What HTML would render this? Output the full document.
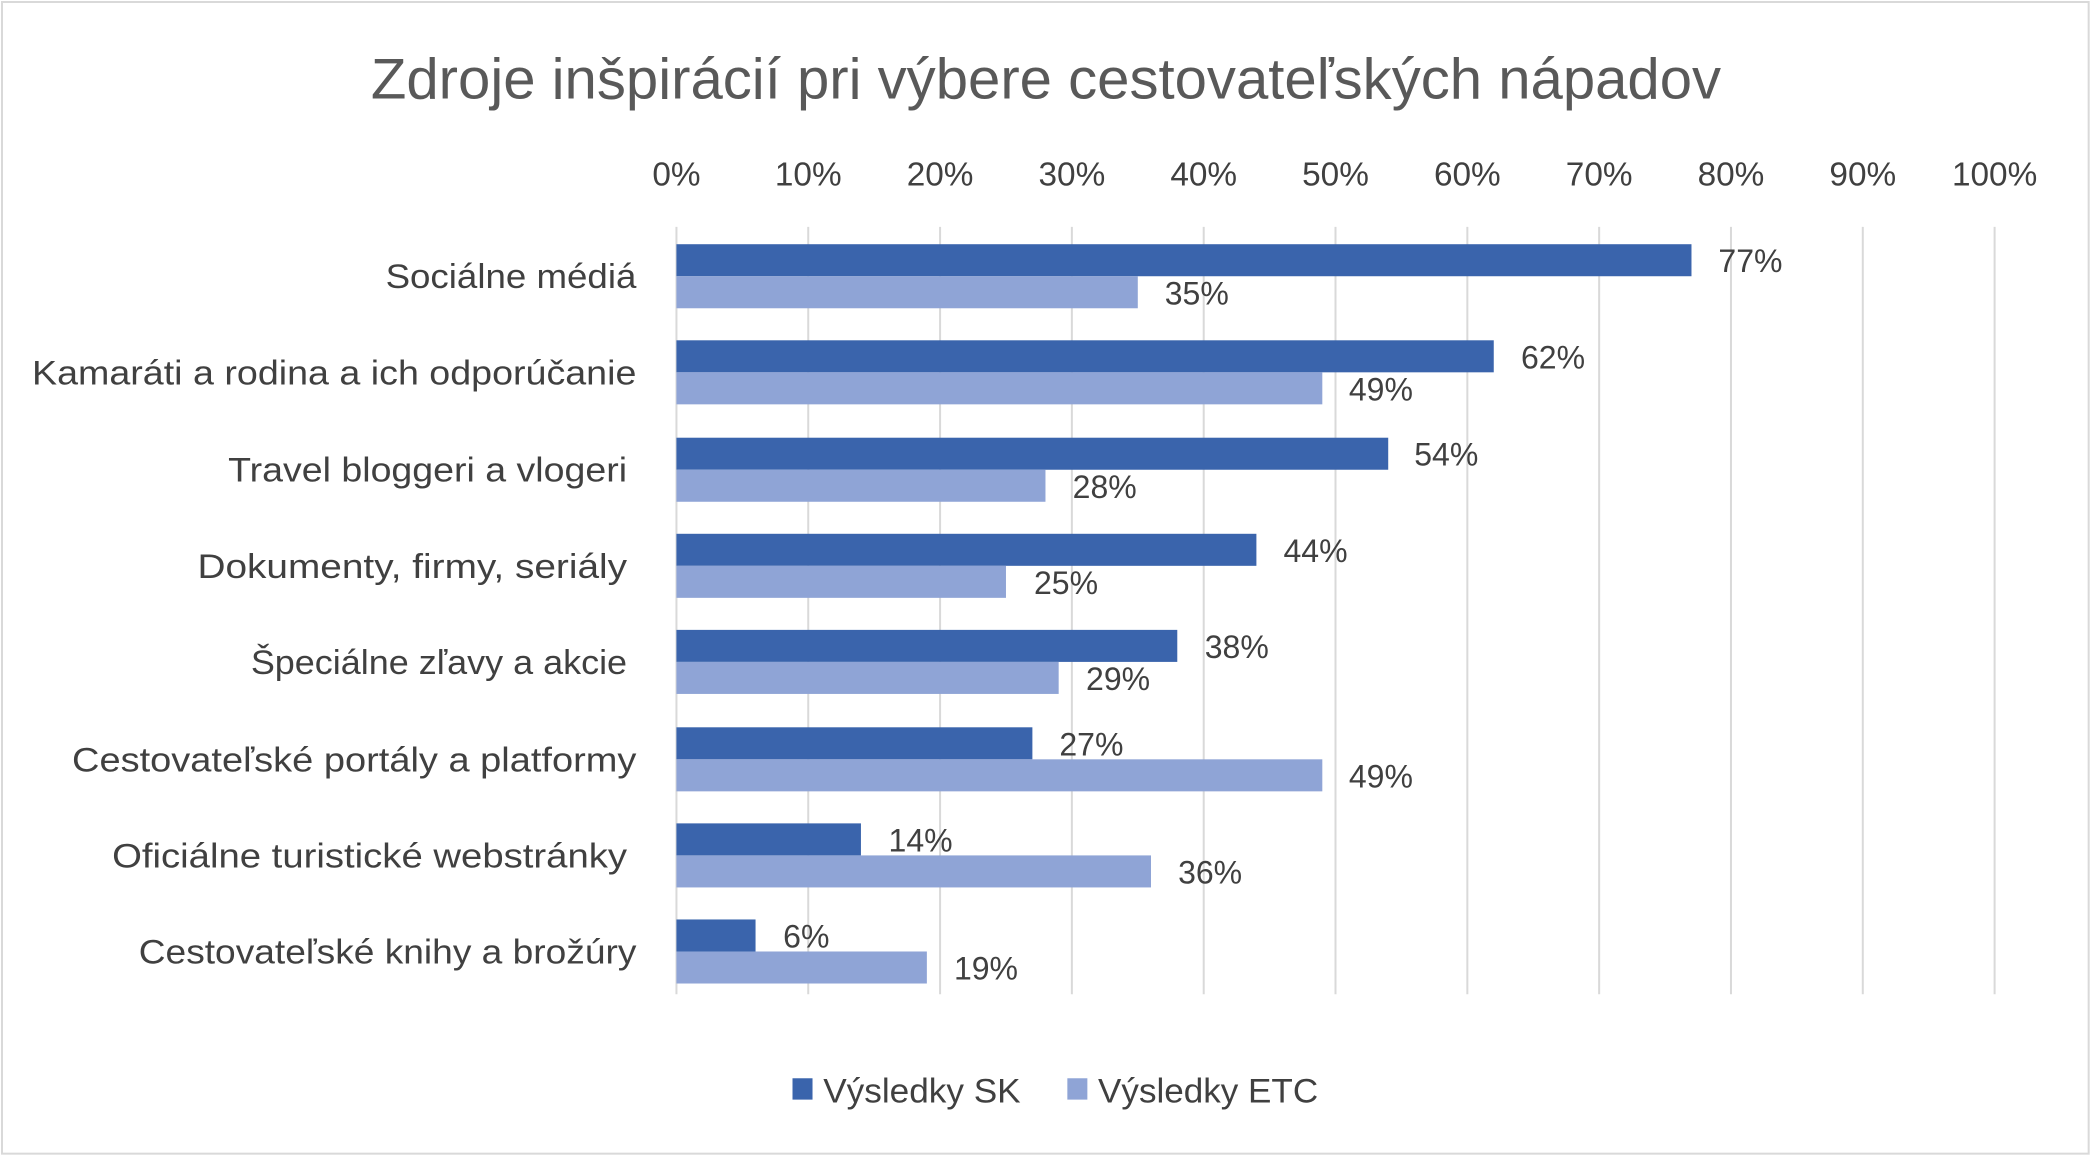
<!DOCTYPE html>
<html><head><meta charset="utf-8"><style>
html,body{margin:0;padding:0;background:#fff;}
svg{display:block;}
text{font-family:"Liberation Sans",sans-serif;fill:#404040;}
</style></head><body>
<svg width="2092" height="1157" viewBox="0 0 1568 867" preserveAspectRatio="none">
<rect x="1.5" y="1.5" width="1564" height="863" fill="#fff" stroke="#d9d9d9" stroke-width="1.5"/>
<text x="278" y="74" font-size="43" textLength="1012" lengthAdjust="spacingAndGlyphs" style="fill:#595959">Zdroje inšpirácií pri výbere cestovateľských nápadov</text>
<g stroke="#d9d9d9" stroke-width="1.5">
<line x1="507" y1="170" x2="507" y2="745"/><line x1="605.8" y1="170" x2="605.8" y2="745"/><line x1="704.6" y1="170" x2="704.6" y2="745"/><line x1="803.4" y1="170" x2="803.4" y2="745"/><line x1="902.2" y1="170" x2="902.2" y2="745"/><line x1="1001" y1="170" x2="1001" y2="745"/><line x1="1099.8" y1="170" x2="1099.8" y2="745"/><line x1="1198.6" y1="170" x2="1198.6" y2="745"/><line x1="1297.4" y1="170" x2="1297.4" y2="745"/><line x1="1396.2" y1="170" x2="1396.2" y2="745"/><line x1="1495" y1="170" x2="1495" y2="745"/>
</g>
<g font-size="25" text-anchor="middle">
<text x="507" y="139">0%</text><text x="605.8" y="139">10%</text><text x="704.6" y="139">20%</text><text x="803.4" y="139">30%</text><text x="902.2" y="139">40%</text><text x="1001" y="139">50%</text><text x="1099.8" y="139">60%</text><text x="1198.6" y="139">70%</text><text x="1297.4" y="139">80%</text><text x="1396.2" y="139">90%</text><text x="1495" y="139">100%</text>
</g>
<g font-size="26" text-anchor="end" lengthAdjust="spacingAndGlyphs">
<text x="477" y="216" textLength="188" lengthAdjust="spacingAndGlyphs">Sociálne médiá</text>
<text x="477" y="288" textLength="453" lengthAdjust="spacingAndGlyphs">Kamaráti a rodina a ich odporúčanie</text>
<text x="470" y="361" textLength="299" lengthAdjust="spacingAndGlyphs">Travel bloggeri a vlogeri</text>
<text x="470" y="433" textLength="322" lengthAdjust="spacingAndGlyphs">Dokumenty, firmy, seriály</text>
<text x="470" y="505" textLength="282" lengthAdjust="spacingAndGlyphs">Špeciálne zľavy a akcie</text>
<text x="477" y="578" textLength="423" lengthAdjust="spacingAndGlyphs">Cestovateľské portály a platformy</text>
<text x="470" y="650" textLength="386" lengthAdjust="spacingAndGlyphs">Oficiálne turistické webstránky</text>
<text x="477" y="722" textLength="373" lengthAdjust="spacingAndGlyphs">Cestovateľské knihy a brožúry</text>
</g>
<g fill="#3a64ac">
<rect x="507" y="183" width="760.8" height="24"/>
<rect x="507" y="255" width="612.6" height="24"/>
<rect x="507" y="328" width="533.5" height="24"/>
<rect x="507" y="400" width="434.7" height="24"/>
<rect x="507" y="472" width="375.4" height="24"/>
<rect x="507" y="545" width="266.8" height="24"/>
<rect x="507" y="617" width="138.3" height="24"/>
<rect x="507" y="689" width="59.3" height="24"/>
</g>
<g fill="#8fa4d6">
<rect x="507" y="207" width="345.8" height="24"/>
<rect x="507" y="279" width="484.1" height="24"/>
<rect x="507" y="352" width="276.6" height="24"/>
<rect x="507" y="424" width="247" height="24"/>
<rect x="507" y="496" width="286.5" height="24"/>
<rect x="507" y="569" width="484.1" height="24"/>
<rect x="507" y="641" width="355.7" height="24"/>
<rect x="507" y="713" width="187.7" height="24"/>
</g>
<g font-size="24">
<text x="1288" y="204">77%</text><text x="873" y="228">35%</text>
<text x="1140" y="276">62%</text><text x="1011" y="300">49%</text>
<text x="1060" y="349">54%</text><text x="804" y="373">28%</text>
<text x="962" y="421">44%</text><text x="775" y="445">25%</text>
<text x="903" y="493">38%</text><text x="814" y="517">29%</text>
<text x="794" y="566">27%</text><text x="1011" y="590">49%</text>
<text x="666" y="638">14%</text><text x="883" y="662">36%</text>
<text x="587" y="710">6%</text><text x="715" y="734">19%</text>
</g>
<rect x="594" y="808" width="15" height="16" fill="#3a64ac"/>
<text x="617" y="826" font-size="26" textLength="148" lengthAdjust="spacingAndGlyphs">Výsledky SK</text>
<rect x="800" y="808" width="15" height="16" fill="#8fa4d6"/>
<text x="823" y="826" font-size="26" textLength="165" lengthAdjust="spacingAndGlyphs">Výsledky ETC</text>
</svg>
</body></html>
